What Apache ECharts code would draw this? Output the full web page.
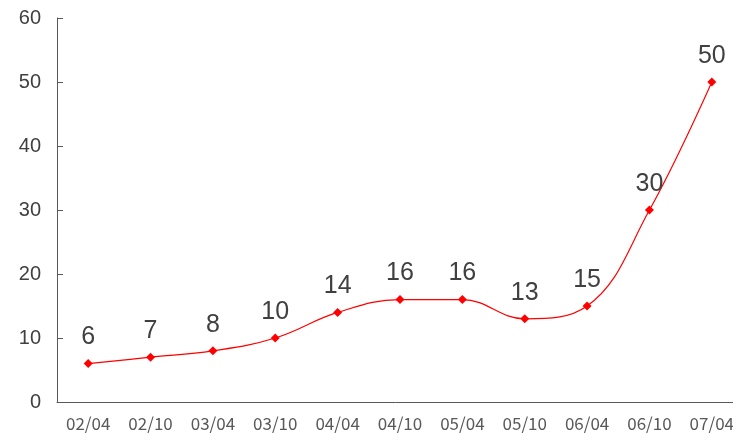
<!DOCTYPE html>
<html><head><meta charset="utf-8">
<script src="https://cdn.jsdelivr.net/npm/echarts@6/dist/echarts.min.js"></script>
<style>html,body{margin:0;padding:0;background:#fff}#c{width:733px;height:433px}</style>
</head><body><div id="c"></div>
<script>
var categories = ['02/04','02/10','03/04','03/10','04/04','04/10','05/04','05/10','06/04','06/10','07/04'];
var values = [6,7,8,10,14,16,16,13,15,30,50];
var yTicks = [0,10,20,30,40,50,60];

var chart = echarts.init(document.getElementById('c'), null, {renderer:'canvas'});
chart.setOption({
  animation:false,
  backgroundColor:'#fff',
  grid:{left:57, width:686, top:18, height:384, containLabel:false, outerBoundsMode:'none'},
  xAxis:{
    type:'category', data:categories, boundaryGap:true,
    axisLine:{lineStyle:{color:'#595959', width:1}},
    axisTick:{inside:true, length:5, lineStyle:{color:'#595959'}},
    axisLabel:{color:'#595959', fontSize:17, margin:13, fontFamily:'Noto Sans CJK JP', hideOverlap:false},
    splitLine:{show:false}
  },
  yAxis:{
    type:'value', min:yTicks[0], max:yTicks[yTicks.length-1], interval:10,
    axisLine:{show:true, lineStyle:{color:'#595959', width:1}},
    axisTick:{show:true, inside:true, length:6, lineStyle:{color:'#595959'}},
    axisLabel:{color:'#404040', fontSize:20, margin:16, fontFamily:'Liberation Sans'},
    splitLine:{show:false}
  },
  series:[{
    type:'line', data:values, smooth:0.4,
    symbol:'diamond', symbolSize:9,
    lineStyle:{color:'#ff0000', width:1.2},
    itemStyle:{color:'#ff0000'},
    label:{show:true, position:'top', distance:9, color:'#404040', fontSize:25, fontFamily:'Liberation Sans'}
  }]
});
</script></body></html>
